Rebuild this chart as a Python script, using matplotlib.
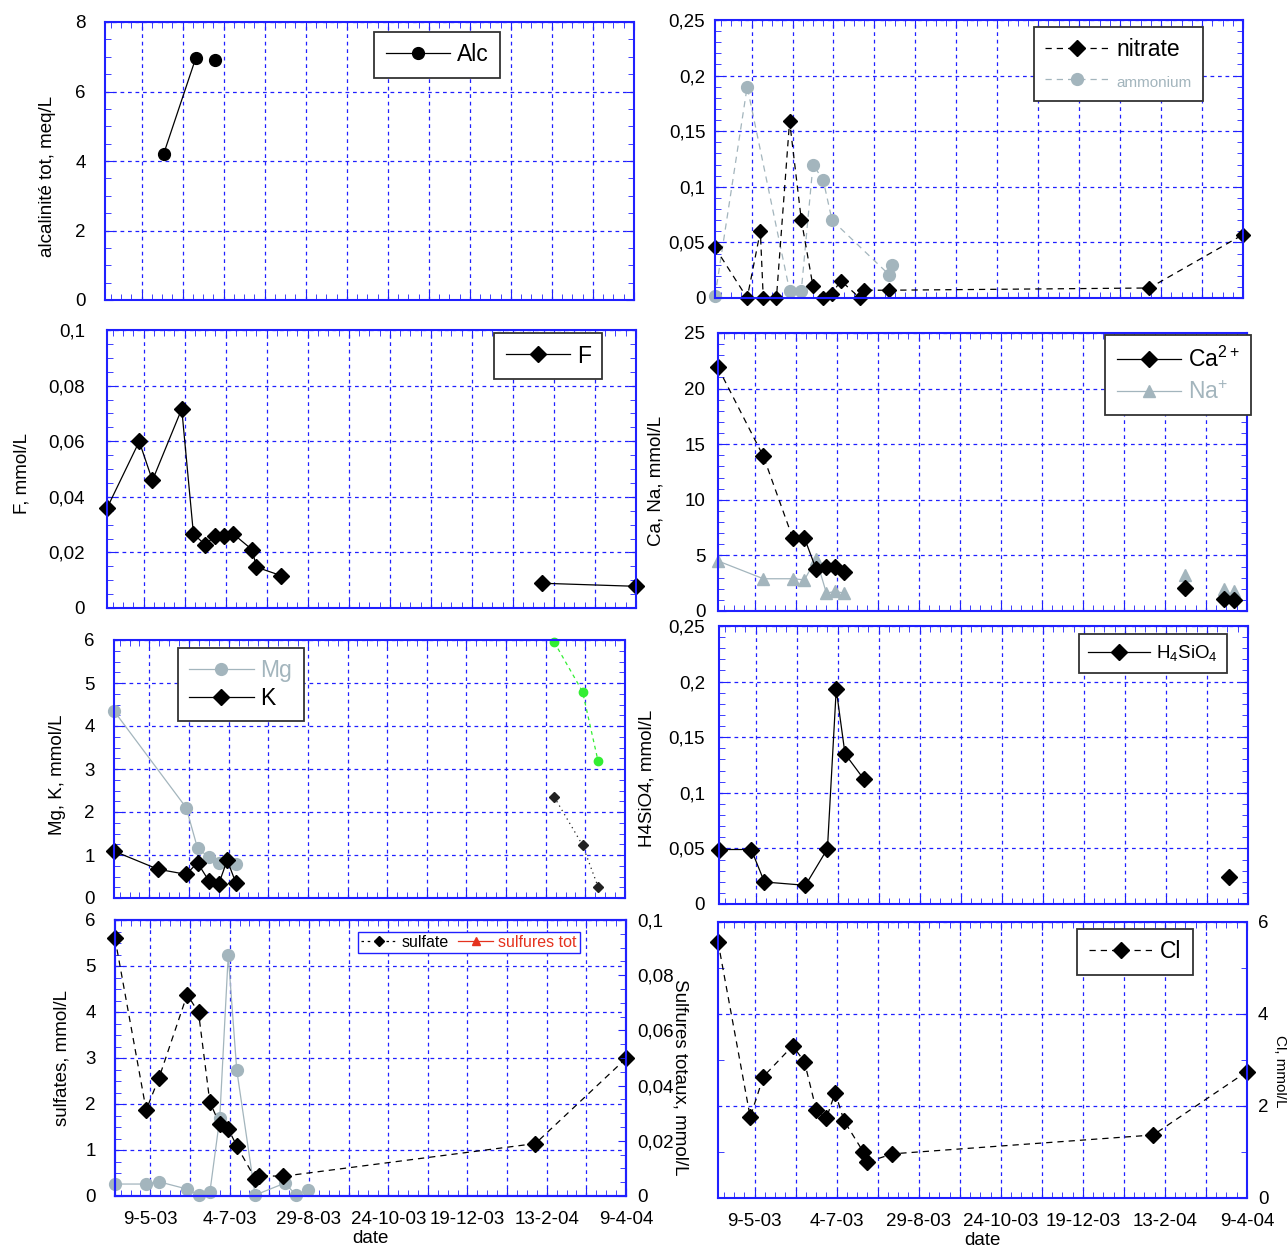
import numpy as np
import pandas as pd
import matplotlib
matplotlib.use("Agg")
import matplotlib.pyplot as plt
import matplotlib.dates as mdates
from matplotlib.ticker import (FixedLocator, FuncFormatter, MultipleLocator,
                               AutoMinorLocator, NullFormatter)
from matplotlib.lines import Line2D

plt.rcParams['font.family'] = ['Liberation Sans', 'DejaVu Sans']
plt.rcParams['mathtext.default'] = 'regular'

BLUE = '#2020ff'
GREY = '#a3b5bd'
RED = '#e5321e'
GREEN = '#33ee33'

# --- données -------------------------------------------------------------
x_start = '2003-04-14'
x_first_label = '2003-05-09'
x_end = '2004-04-09'

alc_dates = ['2003-05-24', '2003-06-15', '2003-06-28']
alc = [4.2, 6.97, 6.9]

nitrate_dates = ['2003-04-14', '2003-05-06', '2003-05-15', '2003-05-17', '2003-05-26',
                 '2003-06-04', '2003-06-12', '2003-06-20', '2003-06-27', '2003-07-03',
                 '2003-07-09', '2003-07-22', '2003-07-25', '2003-08-11', '2004-02-05',
                 '2004-04-09']
nitrate = [0.0455, 0.0, 0.060, 0.0, 0.0, 0.159, 0.0704, 0.0105, 0.0, 0.004,
           0.0156, 0.0, 0.007, 0.007, 0.009, 0.057]
ammonium_dates = ['2003-04-14', '2003-05-06', '2003-06-04', '2003-06-12', '2003-06-20',
                  '2003-06-27', '2003-07-03', '2003-08-11', '2003-08-13']
ammonium = [0.0015, 0.190, 0.0066, 0.0066, 0.120, 0.106, 0.070, 0.021, 0.030]

f_dates = ['2003-04-14', '2003-05-06', '2003-05-15', '2003-06-04', '2003-06-12',
           '2003-06-20', '2003-06-27', '2003-07-03', '2003-07-09', '2003-07-22',
           '2003-07-25', '2003-08-11', '2004-02-05', '2004-04-09']
fluor = [0.0359, 0.0599, 0.0459, 0.0716, 0.0266, 0.0228, 0.026, 0.026, 0.0267,
         0.021, 0.0147, 0.0116, 0.0089, 0.0078]

cana_dates = ['2003-04-14', '2003-05-15', '2003-06-04', '2003-06-12', '2003-06-20',
              '2003-06-27', '2003-07-03', '2003-07-09', '2004-02-27', '2004-03-24',
              '2004-03-31']
ca = [21.9, 13.9, 6.56, 6.56, 3.75, 3.96, 3.96, 3.5, 2.07, 1.05, 0.96]
na = [4.5, 2.9, 2.9, 2.8, 4.7, 1.6, 1.77, 1.6, 3.2, 2.0, 1.77]

mg_dates = ['2003-04-14', '2003-06-04', '2003-06-12', '2003-06-20', '2003-06-27',
            '2003-07-09']
mg = [4.35, 2.10, 1.16, 0.95, 0.82, 0.78]
k_dates = ['2003-04-14', '2003-05-15', '2003-06-04', '2003-06-12', '2003-06-20',
           '2003-06-27', '2003-07-03', '2003-07-09']
potassium = [1.09, 0.67, 0.55, 0.82, 0.40, 0.33, 0.88, 0.36]
extra_dates = ['2004-02-19', '2004-03-10', '2004-03-21']
extra_green = [5.95, 4.80, 3.18]
extra_dark = [2.35, 1.23, 0.26]

si_dates = ['2003-04-14', '2003-05-06', '2003-05-15', '2003-06-12', '2003-06-27',
            '2003-07-03', '2003-07-09', '2003-07-22', '2004-03-27']
h4sio4 = [0.049, 0.049, 0.0198, 0.0168, 0.0497, 0.193, 0.135, 0.112, 0.024]

so4_dates = ['2003-04-14', '2003-05-06', '2003-05-15', '2003-06-04', '2003-06-12',
             '2003-06-20', '2003-06-27', '2003-07-03', '2003-07-09', '2003-07-22',
             '2003-07-25', '2003-08-11', '2004-02-05', '2004-04-09']
sulfate = [5.60, 1.87, 2.56, 4.38, 3.99, 2.04, 1.56, 1.46, 1.09, 0.38, 0.44, 0.43,
           1.14, 2.99]
grey_dates = ['2003-04-14', '2003-05-06', '2003-05-15', '2003-06-04', '2003-06-12',
              '2003-06-20', '2003-06-27', '2003-07-03', '2003-07-09', '2003-07-22',
              '2003-08-12', '2003-08-20', '2003-08-28']
grey_so4 = [0.26, 0.26, 0.31, 0.15, 0.02, 0.08, 1.69, 5.24, 2.74, 0.02, 0.28, 0.02, 0.14]

cl_dates = so4_dates
chlore = [5.57, 1.76, 2.64, 3.31, 2.96, 1.92, 1.74, 2.29, 1.68, 1.01, 0.78, 0.96,
          1.37, 2.75]


def dn(lst):
    return mdates.date2num(pd.to_datetime(lst))


XMIN = dn([x_start])[0]
D0 = dn([x_first_label])[0]
XMAX = dn([x_end])[0]

W, H = 1287, 1248
fig = plt.figure(figsize=(W / 100, H / 100), dpi=100)

MS_D = 8      # losanges
MS_O = 8.5    # ronds


def add_axes(x0, x1, y0, y1):
    return fig.add_axes([x0 / W, 1 - y1 / H, (x1 - x0) / W, (y1 - y0) / H])


def comma(v, pos):
    return ('%g' % round(v, 6)).replace('.', ',')


def date_label(x, pos):
    k = int(round(x - D0))
    if k % 56:
        return ''
    d = mdates.num2date(x)
    return f'{d.day}-{d.month}-{d:%y}'


def style(ax, ymax, ystep, ysub, ypad=6, dates=False):
    ax.set_xlim(XMIN, XMAX)
    ax.set_ylim(0, ymax)
    ax.xaxis.set_major_locator(FixedLocator(np.arange(D0, XMAX + 0.5, 28)))
    ax.xaxis.set_minor_locator(FixedLocator(np.arange(D0 - 21, XMAX + 0.5, 7)))
    if dates:
        ax.xaxis.set_major_formatter(FuncFormatter(date_label))
    else:
        ax.xaxis.set_major_formatter(NullFormatter())
    ax.yaxis.set_major_locator(MultipleLocator(ystep))
    ax.yaxis.set_minor_locator(AutoMinorLocator(ysub))
    ax.yaxis.set_major_formatter(FuncFormatter(comma))
    ax.grid(True, which='major', color=BLUE, ls=(0, (3, 3)), lw=0.9)
    ax.tick_params(which='both', direction='in', top=True, right=True,
                   color=BLUE, labelsize=13.5)
    ax.tick_params(which='major', length=6)
    ax.tick_params(which='minor', length=4)
    ax.tick_params(axis='y', pad=ypad)
    ax.tick_params(axis='x', pad=11)
    for s in ax.spines.values():
        s.set_color(BLUE)
        s.set_linewidth(1.5)


def legend(ax, handles, labels, x, y, size=16.5, **kw):
    opts = dict(loc='upper left', bbox_to_anchor=(x, y), fontsize=size,
                fancybox=False, framealpha=1, borderaxespad=0, handlelength=2.8,
                handletextpad=0.3, borderpad=0.5)
    opts.update(kw)
    leg = ax.legend(handles, labels, **opts)
    leg.get_frame().set_edgecolor('#333333')
    leg.get_frame().set_linewidth(1.3)
    return leg


def ylab(x, y, text, rot=90, size=13.5):
    fig.text(x / W, 1 - y / H, text, rotation=rot, ha='center', va='center',
             fontsize=size)


dash = (0, (5, 4))

# 1 - alcalinité
ax = add_axes(105, 634, 22, 300)
style(ax, 8, 2, 4, ypad=14)
d = dn(alc_dates)
ax.plot(d[:2], alc[:2], '-', color='black', lw=0.9)
ax.plot(d, alc, 'o', color='black', ms=MS_O, ls='none', clip_on=False)
legend(ax, [Line2D([], [], color='black', lw=0.9, marker='o', ms=MS_O)], ['Alc'],
       0.509, 0.964)
ylab(48, 176, 'alcalinité tot, meq/L')

# 2 - nitrate / ammonium
ax = add_axes(715, 1243, 20, 298)
style(ax, 0.25, 0.05, 5, ypad=7)
ax.plot(dn(ammonium_dates), ammonium, ls=dash, color=GREY, lw=0.9, marker='o',
        ms=MS_O, clip_on=False)
ax.plot(dn(nitrate_dates), nitrate, ls=dash, color='black', lw=0.9, marker='D',
        ms=MS_D - 0.5, clip_on=False)
leg = legend(ax, [Line2D([], [], color='black', ls=dash, lw=0.9, marker='D', ms=MS_D),
                  Line2D([], [], color=GREY, ls=dash, lw=0.9, marker='o', ms=MS_O)],
             ['nitrate', 'ammonium'], 0.604, 0.975, labelspacing=0.4)
leg.get_texts()[1].set_color(GREY)
leg.get_texts()[1].set_fontsize(11)

# 3 - fluor
ax = add_axes(107, 636, 330, 608)
style(ax, 0.1, 0.02, 4, ypad=16)
d = dn(f_dates)
ax.plot(d[:12], fluor[:12], '-', color='black', lw=0.9)
ax.plot(d[12:], fluor[12:], '-', color='black', lw=0.9)
ax.plot(d, fluor, 'D', color='black', ms=MS_D, ls='none', clip_on=False)
legend(ax, [Line2D([], [], color='black', lw=0.9, marker='D', ms=MS_D)], ['F'],
       0.732, 0.989)
ylab(22, 474, 'F, mmol/L')

# 4 - Ca / Na
ax = add_axes(718, 1247, 333, 611)
style(ax, 25, 5, 5, ypad=9)
d = dn(cana_dates)
ax.plot(d[:8], na[:8], '-', color=GREY, lw=0.9)
ax.plot(d, na, '^', color=GREY, ms=MS_O, ls='none', clip_on=False)
ax.plot(d[:3], ca[:3], ls=dash, color='black', lw=0.9)
ax.plot(d[2:8], ca[2:8], '-', color='black', lw=0.9)
ax.plot(d, ca, 'D', color='black', ms=MS_D, ls='none', clip_on=False)
leg = legend(ax, [Line2D([], [], color='black', lw=0.9, marker='D', ms=MS_D),
                  Line2D([], [], color=GREY, lw=0.9, marker='^', ms=MS_O)],
             ['Ca$^{2+}$', 'Na$^{+}$'], 0.732, 0.993, labelspacing=0.4)
leg.get_texts()[1].set_color(GREY)
ylab(656, 481, 'Ca, Na, mmol/L')

# 5 - Mg / K
ax = add_axes(114, 625, 640, 898)
style(ax, 6, 1, 4, ypad=14)
ax.plot(dn(mg_dates), mg, '-', color=GREY, lw=0.9, marker='o', ms=MS_O, clip_on=False)
ax.plot(dn(k_dates), potassium, '-', color='black', lw=0.9, marker='D', ms=MS_D,
        clip_on=False)
d = dn(extra_dates)
ax.plot(d, extra_green, ls=(0, (3, 3)), color=GREEN, lw=0.9, marker='o', ms=6,
        clip_on=False)
ax.plot(d, extra_dark, ls=(0, (1, 3)), color='#222222', lw=0.9, marker='D', ms=5.5,
        clip_on=False)
leg = legend(ax, [Line2D([], [], color=GREY, lw=0.9, marker='o', ms=MS_O),
                  Line2D([], [], color='black', lw=0.9, marker='D', ms=MS_D)],
             ['Mg', 'K'], 0.125, 0.969, labelspacing=0.2)
leg.get_texts()[0].set_color(GREY)
ylab(58, 775, 'Mg, K, mmol/L')

# 6 - H4SiO4
ax = add_axes(719, 1248, 626, 904)
style(ax, 0.25, 0.05, 5, ypad=10)
d = dn(si_dates)
ax.plot(d[:8], h4sio4[:8], '-', color='black', lw=0.9)
ax.plot(d, h4sio4, 'D', color='black', ms=MS_D, ls='none', clip_on=False)
legend(ax, [Line2D([], [], color='black', lw=0.9, marker='D', ms=MS_D)],
       ['H$_4$SiO$_4$'], 0.68, 0.971, size=13.5, handlelength=3.3)
ylab(647, 778, 'H4SiO4, mmol/L')

# 7 - sulfates / sulfures
ax = add_axes(115, 626, 920, 1196)
style(ax, 6, 1, 4, ypad=14, dates=True)
ax.tick_params(axis='y', right=False)
ax.plot(dn(grey_dates), grey_so4, '-', color=GREY, lw=0.9, marker='o', ms=MS_O,
        clip_on=False)
ax.plot(dn(so4_dates), sulfate, ls=dash, color='black', lw=0.9, marker='D', ms=MS_D,
        clip_on=False)
ax.set_xlabel('date', fontsize=13.5, labelpad=1)
axr = ax.twinx()
axr.set_ylim(0, 0.1)
axr.yaxis.set_major_locator(MultipleLocator(0.02))
axr.yaxis.set_minor_locator(AutoMinorLocator(4))
axr.yaxis.set_major_formatter(FuncFormatter(comma))
axr.tick_params(which='both', direction='in', color=BLUE, labelsize=13.5, pad=8)
axr.tick_params(which='major', length=6)
axr.tick_params(which='minor', length=4)
for s in axr.spines.values():
    s.set_color(BLUE)
    s.set_linewidth(1.5)
leg = legend(ax, [Line2D([], [], color='black', ls=(0, (2, 3)), lw=0.9, marker='D', ms=5),
                  Line2D([], [], color=RED, lw=0.9, marker='^', ms=6)],
             ['sulfate', 'sulfures tot'], 0.476, 0.957, size=11.5, ncol=2,
             handlelength=2.2, columnspacing=0.6, borderpad=0.2)
leg.get_frame().set_edgecolor(BLUE)
leg.get_frame().set_linewidth(1.0)
leg.get_texts()[1].set_color(RED)
ylab(62, 1058, 'sulfates, mmol/L')
ylab(680, 1077, 'Sulfures totaux, mmol/L', rot=270)

# 8 - chlorure
ax = add_axes(718, 1247, 922, 1198)
style(ax, 6, 2, 2, ypad=8, dates=True)
ax.tick_params(axis='y', left=False, labelleft=False, labelright=True)
ax.plot(dn(cl_dates), chlore, ls=dash, color='black', lw=0.9, marker='D', ms=MS_D,
        clip_on=False)
ax.set_xlabel('date', fontsize=13.5, labelpad=1)
legend(ax, [Line2D([], [], color='black', ls=dash, lw=0.9, marker='D', ms=MS_D)],
       ['Cl'], 0.679, 0.975)
ylab(1280, 1071, 'Cl, mmol/L', rot=270, size=11)

fig.savefig('out.png', dpi=100)
